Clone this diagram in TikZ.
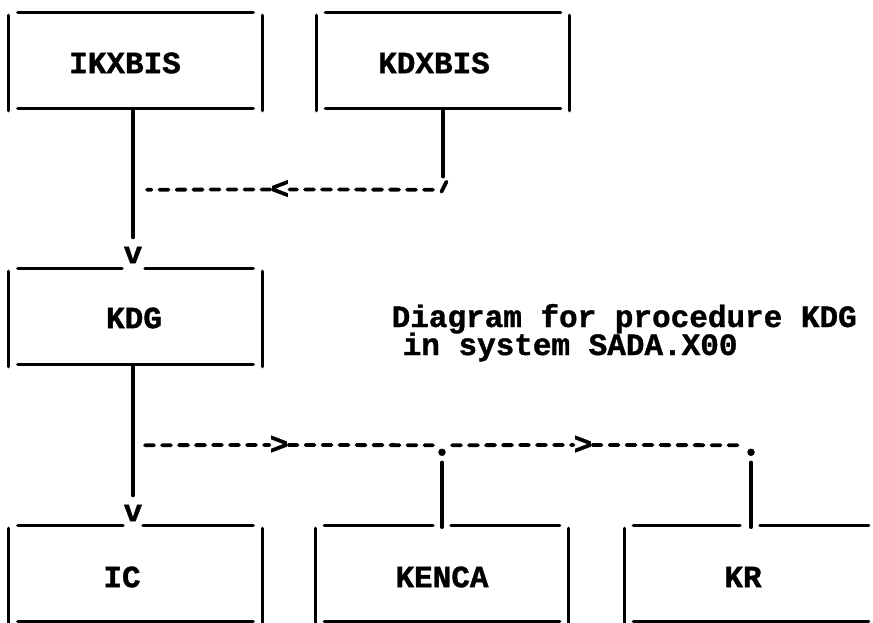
\documentclass[tikz,border=0pt]{standalone}
\usepackage{fontspec}
\newfontfamily\asciifont{Liberation Mono}[BoldFeatures={FakeBold=1.2}]
\usetikzlibrary{calc}
\begin{document}
\begin{tikzpicture}[x=1pt,y=-1pt,
  ink/.style={line width=3.3pt, line cap=round},
  dashink/.style={line width=3.8pt, line cap=round, dash pattern=on 9pt off 8pt},
  box/.style={rectangle, draw=none, inner sep=0pt, minimum width=253pt, minimum height=96pt},
  lbl/.style={font=\asciifont\bfseries\fontsize{31pt}{27pt}\selectfont, inner sep=0pt},
  dot/.style={circle, fill=black, inner sep=0pt, minimum size=7.5pt},
]
\fill[white] (0,0) rectangle (873,623);
\useasboundingbox (0,0) rectangle (873,623);

% boxes
\node[box, label={[lbl,xshift=-10.5pt,yshift=-2.5pt]center:IKXBIS}] (ikx)   at (135.5,60.5) {};
\node[box, label={[lbl,xshift=-9pt,yshift=-2.5pt]center:KDXBIS}]    (kdx)   at (443,60.5) {};
\node[box, label={[lbl,xshift=-1.5pt,yshift=-1.5pt]center:KDG}]     (kdg)   at (135.5,316.5) {};
\node[box, label={[lbl,xshift=-13.5pt,yshift=-3.5pt]center:IC}]     (ic)    at (135.5,573.5) {};
\node[box, label={[lbl,xshift=0pt,yshift=-3.5pt]center:KENCA}]      (kenca) at (442,573.5) {};
\node[box, label={[lbl,xshift=-8pt,yshift=-3.5pt]center:KR}]        (kr)    at (751,573.5) {};

% frames: name / gap start / gap end (relative to centre)
\foreach \n/\ga/\gb in {ikx/0/0, kdx/0/0, kdg/-13.5/9.5, ic/-12.5/7.5, kenca/-9/9, kr/-11/9}{
  \ifdim \ga pt=0pt
    \draw[ink] ($(\n.north west)+(9,0)$) -- ($(\n.north east)+(-9,0)$);
  \else
    \draw[ink] ($(\n.north west)+(9,0)$) -- ($(\n.north)+(\ga,0)$);
    \draw[ink] ($(\n.north)+(\gb,0)$) -- ($(\n.north east)+(-9,0)$);
  \fi
  \draw[ink] ($(\n.south west)+(9,0)$) -- ($(\n.south east)+(-9,0)$);
  \draw[ink] ($(\n.north west)+(0,3)$) -- ($(\n.south west)+(0,2)$);
  \draw[ink] ($(\n.north east)+(0,3)$) -- ($(\n.south east)+(0,2)$);
}

% caption
\node[lbl, anchor=base west] (cap1) at (391.5,327) {Diagram for procedure KDG};
\node[lbl, anchor=base west] (cap2) at ($(cap1.base west)+(11,28)$) {in system SADA.X00};

% IKXBIS -> KDG
\node[lbl] (v1) at (133,255) {v};
\draw[ink] ($(ikx.south)+(-2.5,2)$) -- ($(v1.north)+(0,-9)$);

% KDXBIS ----< joins
\coordinate (t1) at ($(kdx.south)+(0,81)$);
\coordinate (t2) at ($(ikx.south)+(-2.5,81)$);
\node[lbl] (lt) at (280,189.5) {<};
\draw[ink] ($(kdx.south)+(0,2)$) -- ($(t1)+(0,-13)$);
\draw[line width=3.8pt, line cap=round] ($(t1)+(3.5,-8)$) -- ($(t1)+(-1.5,2)$);
\draw[dashink] ($(t1)+(-10,0)$) -- (lt.east);
\draw[dashink] (lt.west) -- ($(t2)+(14,0)$);

% KDG -> IC
\node[lbl] (v2) at (133,513) {v};
\draw[ink] ($(kdg.south)+(-2.5,2)$) -- ($(v2.north)+(0,-9)$);

% KDG ---> KENCA ---> KR
\coordinate (m0) at ($(kdg.south)+(-2.5,80.5)$);
\node[dot] (d1) at ($(kenca.north)+(0,-73)$) {};
\node[dot] (d2) at ($(kr.north)+(0,-73)$) {};
\node[lbl] (g1) at (279,445) {>};
\node[lbl] (g2) at (583,445) {>};
\draw[dashink] ($(m0)+(12,0)$) -- (g1.west);
\draw[dashink] (g1.east) -- ($(d1 |- m0)+(-9,0)$);
\draw[dashink] ($(d1 |- m0)+(10,0)$) -- (g2.west);
\draw[dashink] (g2.east) -- ($(d2 |- m0)+(-11,0)$);
\draw[ink] ($(d1)+(0,10)$) -- ($(kenca.north)+(0,2)$);
\draw[ink] ($(d2)+(0,10)$) -- ($(kr.north)+(0,2)$);
\end{tikzpicture}
\end{document}
